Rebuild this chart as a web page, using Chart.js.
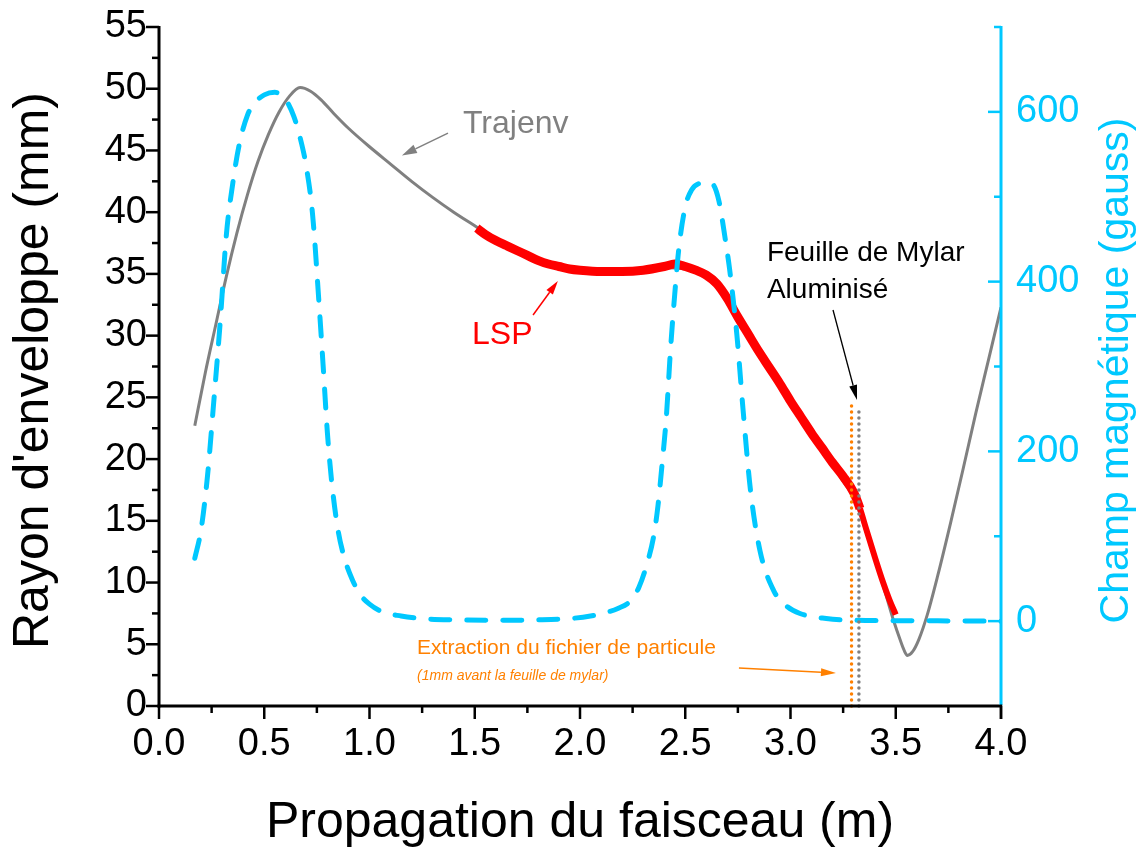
<!DOCTYPE html>
<html><head><meta charset="utf-8">
<script src="https://cdn.jsdelivr.net/npm/chart.js@4/dist/chart.umd.min.js"></script>
<style>html,body{margin:0;padding:0;background:#fff}#wrap{width:1146px;height:847px}</style>
</head><body><div id="wrap"><canvas id="c" width="1146" height="847"></canvas></div>
<script>
// ---------- data ----------
const trajX = [0.17,0.22,0.27,0.32,0.37,0.42,0.47,0.52,0.57,0.62,0.67,0.72,0.77,0.83,0.90,1.0,1.1,1.2,1.3,1.4,1.5,1.6,1.7,1.8,1.9,2.0,2.1,2.2,2.3,2.4,2.5,2.6,2.7,2.8,2.9,3.0,3.1,3.2,3.25,3.30,3.35,3.40,3.45,3.49,3.52,3.54,3.555,3.58,3.61,3.65,3.70,3.76,3.82,3.88,3.94,4.0];
const trajY = [22.7,27.0,30.9,34.8,38.3,41.4,44.1,46.3,48.1,49.4,50.1,49.8,49.1,48.0,46.8,45.3,43.9,42.5,41.2,40.0,38.9,37.8,36.9,36.1,35.6,35.3,35.2,35.2,35.3,35.5,35.4,34.9,32.8,30.0,27.4,24.8,22.3,19.6,18.2,16.9,14.6,12.0,9.2,6.9,5.4,4.5,4.1,4.4,5.4,7.4,10.6,14.8,19.2,23.7,28.0,32.3];

const lspX = [1.51,1.55,1.60,1.65,1.70,1.75,1.80,1.85,1.90,1.95,2.00,2.10,2.20,2.30,2.40,2.45,2.50,2.55,2.60,2.65,2.70,2.75,2.80,2.85,2.90,2.95,3.00,3.05,3.10,3.15,3.20,3.25,3.30,3.33,3.36,3.40,3.44,3.47,3.50];
const lspY = [38.7,38.2,37.7,37.3,36.9,36.5,36.1,35.8,35.6,35.4,35.3,35.2,35.2,35.3,35.6,35.8,35.6,35.3,34.9,34.2,33.0,31.5,30.1,28.7,27.4,26.1,24.7,23.4,22.1,20.9,19.7,18.6,17.3,16.0,14.3,12.1,10.0,8.6,7.4];

const fieldX = [0.17,0.20,0.23,0.26,0.29,0.32,0.35,0.38,0.42,0.46,0.50,0.55,0.60,0.64,0.67,0.70,0.73,0.76,0.78,0.80,0.82,0.85,0.88,0.92,0.96,1.00,1.06,1.15,1.25,1.40,1.60,1.80,1.95,2.05,2.12,2.18,2.24,2.28,2.32,2.35,2.37,2.39,2.41,2.43,2.45,2.47,2.50,2.53,2.57,2.60,2.63,2.66,2.69,2.71,2.745,2.775,2.81,2.855,2.92,2.98,3.045,3.17,3.30,3.50,3.70,4.00];
const fieldY = [74,108,170,258,350,455,515,560,596,612,620,623,615,595,570,535,478,375,300,222,165,108,75,48,30,20,11,6,3,1.5,1,1.5,3,6,10,15,24,40,69,100,135,185,240,320,385,440,488,508,516,517,515,495,450,416,338,248,154,83,36,18,9,3,1,0.5,0.3,0];

const extractX = [3.29,3.29];
const extractY = [0,24.6];
const mylarX = [3.325,3.325];
const mylarY = [0,24.2];

const xTicks = [0,0.5,1,1.5,2,2.5,3,3.5,4];
const xMinor = [0.25,0.75,1.25,1.75,2.25,2.75,3.25,3.75];
const yTicks = [0,5,10,15,20,25,30,35,40,45,50,55];
const yMinor = [2.5,7.5,12.5,17.5,22.5,27.5,32.5,37.5,42.5,47.5,52.5];
const bTicks = [0,200,400,600];
const bMinor = [-100,100,300,500,700];

// ---------- style ----------
const FONT = "'Liberation Sans', Arial, Helvetica, sans-serif";
const CYAN = '#00c8ff';
const GREY = '#808080';
const RED = '#ff0000';
const ORANGE = '#ff8000';

const pts = (xs, ys) => xs.map((v, i) => ({x: v, y: ys[i]}));

function arrow(ctx, x1, y1, x2, y2, color, lw, hl, hw) {
  const a = Math.atan2(y2 - y1, x2 - x1);
  const bx = x2 - hl * Math.cos(a), by = y2 - hl * Math.sin(a);
  ctx.strokeStyle = color; ctx.fillStyle = color; ctx.lineWidth = lw;
  ctx.beginPath(); ctx.moveTo(x1, y1); ctx.lineTo(bx, by); ctx.stroke();
  ctx.beginPath(); ctx.moveTo(x2, y2);
  ctx.lineTo(bx + hw / 2 * Math.sin(a), by - hw / 2 * Math.cos(a));
  ctx.lineTo(bx - hw / 2 * Math.sin(a), by + hw / 2 * Math.cos(a));
  ctx.closePath(); ctx.fill();
}

const decor = {
  id: 'decor',
  afterDatasetsDraw(chart) {
    const {ctx, scales: {x, y, y1}} = chart;
    const L = chart.chartArea.left, R = chart.chartArea.right, T = chart.chartArea.top, B = chart.chartArea.bottom;
    const seg = (a, b, c, d) => { ctx.beginPath(); ctx.moveTo(a, b); ctx.lineTo(c, d); ctx.stroke(); };
    ctx.save();
    ctx.lineCap = 'butt';
    ctx.strokeStyle = '#000'; ctx.lineWidth = 2.5;
    yTicks.forEach(v => { const p = y.getPixelForValue(v); seg(L - 13, p, L, p); });
    yMinor.forEach(v => { const p = y.getPixelForValue(v); seg(L - 7, p, L, p); });
    xTicks.forEach(v => { const p = x.getPixelForValue(v); seg(p, B, p, B + 13); });
    xMinor.forEach(v => { const p = x.getPixelForValue(v); seg(p, B, p, B + 7); });
    ctx.lineWidth = 3;
    seg(L, T - 1, L, B + 1.5);
    seg(L - 1.5, B, R, B);
    ctx.strokeStyle = CYAN; ctx.lineWidth = 2.5;
    bTicks.forEach(v => { const p = y1.getPixelForValue(v); seg(R - 13, p, R, p); });
    bMinor.forEach(v => { const p = y1.getPixelForValue(v); if (v > -100) seg(R - 7, p, R, p); });
    ctx.lineWidth = 3;
    seg(R, T - 1, R, B - 1);
    ctx.strokeStyle = '#000'; ctx.lineWidth = 2.5;
    seg(R, B - 1.5, R, B + 13);

    ctx.fillStyle = '#000';
    ctx.textAlign = 'center'; ctx.textBaseline = 'middle';
    ctx.font = '50px ' + FONT;
    ctx.fillText('Propagation du faisceau (m)', (L + R) / 2, 823);
    ctx.save(); ctx.translate(34, (T + B) / 2 + 4); ctx.rotate(-Math.PI / 2);
    ctx.fillText("Rayon d'enveloppe (mm)", 0, 0); ctx.restore();
    ctx.save(); ctx.translate(1117, (T + B) / 2 + 4); ctx.rotate(-Math.PI / 2);
    ctx.fillStyle = CYAN; ctx.font = '41px ' + FONT;
    ctx.fillText('Champ magnétique (gauss)', 0, 0); ctx.restore();

    const px = v => x.getPixelForValue(v), py = v => y.getPixelForValue(v);
    ctx.textAlign = 'left';
    ctx.fillStyle = GREY; ctx.font = '32px ' + FONT;
    ctx.fillText('Trajenv', px(1.444), py(47.1));
    arrow(ctx, px(1.373), py(46.4), px(1.154), py(44.6), GREY, 1.5, 15, 9);
    ctx.fillStyle = RED; ctx.font = '32px ' + FONT;
    ctx.fillText('LSP', px(1.487), py(30.05));
    arrow(ctx, px(1.777), py(31.67), px(1.895), py(34.43), RED, 1.5, 14, 8);
    ctx.fillStyle = '#000'; ctx.font = '28px ' + FONT;
    ctx.fillText('Feuille de Mylar', px(2.888), py(36.7));
    ctx.fillText('Aluminisé', px(2.888), py(33.7));
    arrow(ctx, px(3.202), py(32.08), px(3.316), py(24.79), '#000', 1.3, 15, 8);
    ctx.fillStyle = ORANGE; ctx.font = '21px ' + FONT;
    ctx.fillText('Extraction du fichier de particule', px(1.226), py(4.7));
    ctx.font = 'italic 14px ' + FONT;
    ctx.fillText('(1mm avant la feuille de mylar)', px(1.226), py(2.43));
    arrow(ctx, px(2.755), py(3.08), px(3.216), py(2.67), ORANGE, 1.3, 15, 8);
    ctx.restore();
  }
};

const tickFont = {family: FONT, size: 38};
const noPad = s => { s.paddingTop = 0; s.paddingBottom = 0; };

new Chart(document.getElementById('c'), {
  type: 'line',
  data: {
    datasets: [
      {label: 'extract', data: pts(extractX, extractY), yAxisID: 'y', borderColor: ORANGE, borderWidth: 3.5, borderDash: [0, 6], borderCapStyle: 'round', pointRadius: 0, order: 0, clip: false},
      {label: 'mylar', data: pts(mylarX, mylarY), yAxisID: 'y', borderColor: GREY, borderWidth: 3.5, borderDash: [0, 6], borderCapStyle: 'round', pointRadius: 0, order: 0, clip: false},
      {label: 'Champ', data: pts(fieldX, fieldY), yAxisID: 'y1', borderColor: CYAN, borderWidth: 5, borderDash: [19, 17], borderCapStyle: 'round', cubicInterpolationMode: 'monotone', pointRadius: 0, order: 1},
      {label: 'LSP', data: pts(lspX, lspY), yAxisID: 'y', borderColor: RED, borderWidth: 9, borderJoinStyle: 'round',
        segment: {borderWidth: c => (c.p0.parsed.x >= 3.33 ? 6 : 9)},
        cubicInterpolationMode: 'monotone', pointRadius: 0, order: 2},
      {label: 'Trajenv', data: pts(trajX, trajY), yAxisID: 'y', borderColor: GREY, borderWidth: 3, cubicInterpolationMode: 'monotone', pointRadius: 0, order: 3}
    ]
  },
  options: {
    responsive: false, animation: false, devicePixelRatio: 1,
    layout: {padding: {top: 27, left: 0, right: 0, bottom: 0}},
    plugins: {legend: {display: false}, tooltip: {enabled: false}},
    scales: {
      x: {
        type: 'linear', position: 'bottom', min: 0, max: 4,
        afterFit: s => { s.height = 141; s.paddingLeft = 0; s.paddingRight = 0; },
        afterBuildTicks: s => { s.ticks = xTicks.map(v => ({value: v})); },
        ticks: {font: tickFont, color: '#000', padding: 16, maxRotation: 0, autoSkip: false, callback: v => Number(v).toFixed(1)},
        grid: {display: false, drawTicks: false}, border: {display: false}
      },
      y: {
        type: 'linear', position: 'left', min: 0, max: 55,
        afterFit: s => { s.width = 159; noPad(s); },
        afterBuildTicks: s => { s.ticks = yTicks.map(v => ({value: v})); },
        ticks: {font: tickFont, color: '#000', padding: 12, autoSkip: false},
        grid: {display: false, drawTicks: false}, border: {display: false}
      },
      y1: {
        type: 'linear', position: 'right', min: -100, max: 700,
        afterFit: s => { s.width = 145; noPad(s); },
        afterBuildTicks: s => { s.ticks = bTicks.map(v => ({value: v})); },
        ticks: {font: tickFont, color: CYAN, padding: 15, autoSkip: false},
        grid: {display: false, drawTicks: false}, border: {display: false}
      }
    }
  },
  plugins: [decor]
});
</script>
</body></html>
